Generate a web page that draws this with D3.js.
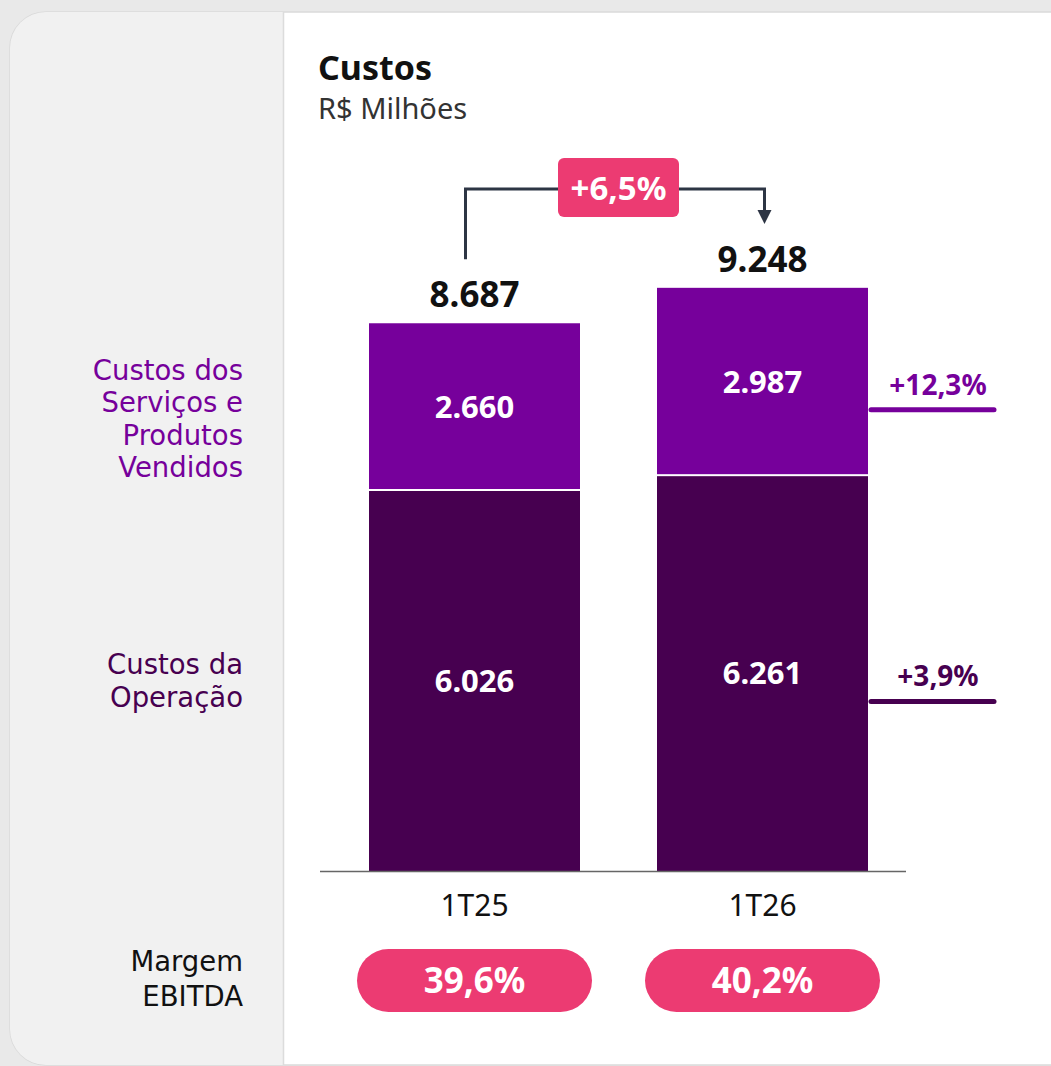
<!DOCTYPE html>
<html>
<head>
<meta charset="utf-8">
<script src="https://cdn.jsdelivr.net/npm/d3@7"></script>
<style>
  html, body { margin: 0; padding: 0; background: #e9e9e9; }
  svg { display: block; font-family: "Noto Sans", sans-serif; }
  .lado { font-family: "DejaVu Sans", sans-serif; }
</style>
</head>
<body>
<svg id="chart" width="1051" height="1066"></svg>
<script>
// dados
var periodos = ["1T25", "1T26"];
var custosOperacao = [6026, 6261];
var custosServicos = [2660, 2987];
var totais = [8687, 9248];
var margemEbitda = ["39,6%", "40,2%"];
var variacaoTotal = "+6,5%";
var variacaoSeries = ["+12,3%", "+3,9%"];
var nomesSeries = [["Custos dos", "Serviços e", "Produtos", "Vendidos"], ["Custos da", "Operação"]];

var corServicos = "#76009b";
var corOperacao = "#470050";
var corRosa = "#ec3b72";
var corSeta = "#2d3544";

var svg = d3.select("#chart");
var W = 1051, H = 1066;

// cartão
svg.append("rect").attr("x", 10).attr("y", 12).attr("width", 1080).attr("height", 1053)
  .attr("rx", 36).attr("fill", "#ffffff").attr("stroke", "#dadada").attr("stroke-width", 1.5);
var clip = svg.append("clipPath").attr("id", "cardclip");
clip.append("rect").attr("x", 10).attr("y", 12).attr("width", 1080).attr("height", 1053).attr("rx", 36);
svg.append("rect").attr("x", 10).attr("y", 12).attr("width", 273).attr("height", 1053)
  .attr("fill", "#f1f1f1").attr("clip-path", "url(#cardclip)");
svg.append("line").attr("x1", 283.5).attr("x2", 283.5).attr("y1", 12).attr("y2", 1065)
  .attr("stroke", "#dcdcdc").attr("stroke-width", 1.5);

// titulo
svg.append("text").attr("x", 318).attr("y", 80).text("Custos")
  .style("font-size", "34px").style("font-weight", "700").attr("fill", "#111");
svg.append("text").attr("x", 318).attr("y", 119).text("R$ Milhões")
  .style("font-size", "29px").attr("fill", "#333");

// escalas
var x = d3.scaleBand().domain(periodos).range([369, 868]).paddingInner(77 / 288).paddingOuter(0);
var y = d3.scaleLinear().domain([0, 10000]).range([871, 871 - 630.6]);

var dados = periodos.map(function(p, i) {
  return { periodo: p, op: custosOperacao[i], serv: custosServicos[i], total: totais[i] };
});

var g = svg.append("g");

// barras operacao
g.selectAll(".op").data(dados).enter().append("rect")
  .attr("x", function(d) { return x(d.periodo); })
  .attr("y", function(d) { return y(d.op); })
  .attr("width", x.bandwidth())
  .attr("height", function(d) { return y(0) - y(d.op); })
  .attr("fill", corOperacao);

// barras servicos
g.selectAll(".serv").data(dados).enter().append("rect")
  .attr("x", function(d) { return x(d.periodo); })
  .attr("y", function(d) { return y(d.op + d.serv); })
  .attr("width", x.bandwidth())
  .attr("height", function(d) { return y(d.op) - y(d.op + d.serv) - 2; })
  .attr("fill", corServicos);

var fmt = function(v) { return d3.format(",")(v).replace(",", "."); };

// rotulos dentro
g.selectAll(".lop").data(dados).enter().append("text")
  .attr("x", function(d) { return x(d.periodo) + x.bandwidth() / 2; })
  .attr("y", function(d) { return (y(0) + y(d.op)) / 2; })
  .attr("dy", "0.35em").attr("text-anchor", "middle")
  .style("font-size", "31px").style("font-weight", "700").attr("fill", "#fff")
  .text(function(d) { return fmt(d.op); });
g.selectAll(".lserv").data(dados).enter().append("text")
  .attr("x", function(d) { return x(d.periodo) + x.bandwidth() / 2; })
  .attr("y", function(d) { return (y(d.op) + y(d.op + d.serv)) / 2; })
  .attr("dy", "0.35em").attr("text-anchor", "middle")
  .style("font-size", "31px").style("font-weight", "700").attr("fill", "#fff")
  .text(function(d) { return fmt(d.serv); });

// totais
g.selectAll(".ltot").data(dados).enter().append("text")
  .attr("x", function(d) { return x(d.periodo) + x.bandwidth() / 2; })
  .attr("y", function(d) { return y(d.total) - 28; })
  .attr("dy", "0.35em").attr("text-anchor", "middle")
  .style("font-size", "35px").style("font-weight", "700").attr("fill", "#111")
  .text(function(d) { return fmt(d.total); });

// eixo x
svg.append("line").attr("x1", 320).attr("x2", 906).attr("y1", y(0) + 0.5).attr("y2", y(0) + 0.5)
  .attr("stroke", "#666").attr("stroke-width", 1.5);
g.selectAll(".cat").data(periodos).enter().append("text")
  .attr("x", function(d) { return x(d) + x.bandwidth() / 2; })
  .attr("y", 905).attr("dy", "0.35em").attr("text-anchor", "middle")
  .style("font-size", "30px").attr("fill", "#111")
  .text(function(d) { return d; });

// seta de variacao
var xa = x(periodos[0]) + x.bandwidth() / 2 - 9;
var xb = x(periodos[1]) + x.bandwidth() / 2 + 2;
var ytop = 189;
svg.append("path")
  .attr("d", "M" + xa + "," + (y(totais[0]) - 64) + "V" + ytop + "H" + xb + "V" + 212)
  .attr("fill", "none").attr("stroke", corSeta).attr("stroke-width", 3);
svg.append("path")
  .attr("d", "M" + (xb - 7) + ",210L" + (xb + 7) + ",210L" + xb + ",224Z")
  .attr("fill", corSeta);
svg.append("rect").attr("x", 558).attr("y", 158).attr("width", 121).attr("height", 59)
  .attr("rx", 6).attr("fill", corRosa);
svg.append("text").attr("x", 618.5).attr("y", 188).attr("dy", "0.35em").attr("text-anchor", "middle")
  .style("font-size", "33px").style("font-weight", "700").attr("fill", "#fff").text(variacaoTotal);

// variacao por serie
var meiosSerie = [
  { val: variacaoSeries[0], cor: corServicos, yl: y(custosOperacao[1] + custosServicos[1]) + 122 },
  { val: variacaoSeries[1], cor: corOperacao, yl: (y(0) + y(custosOperacao[1])) / 2 + 28 }
];
meiosSerie.forEach(function(s) {
  svg.append("line").attr("x1", 871).attr("x2", 994).attr("y1", s.yl).attr("y2", s.yl)
    .attr("stroke", s.cor).attr("stroke-width", 5).attr("stroke-linecap", "round");
  svg.append("text").attr("x", 938).attr("y", s.yl - 25).attr("dy", "0.35em").attr("text-anchor", "middle")
    .style("font-size", "28px").style("font-weight", "700").attr("fill", s.cor).text(s.val);
});

// nomes das series a esquerda
var centros = [(y(custosOperacao[0]) + y(totais[0])) / 2 + 12, (y(0) + y(custosOperacao[0])) / 2];
var coresNomes = [corServicos, corOperacao];
nomesSeries.forEach(function(linhas, i) {
  var t = svg.append("text").attr("class", "lado").attr("text-anchor", "end")
    .style("font-size", "27.5px").attr("fill", coresNomes[i]);
  var y0 = centros[i] - (linhas.length - 1) * 32.5 / 2;
  linhas.forEach(function(l, k) {
    t.append("tspan").attr("x", 243).attr("y", y0 + k * 32.5).attr("dy", "0.35em").text(l);
  });
});

// margem ebitda
var tm = svg.append("text").attr("class", "lado").attr("text-anchor", "end")
  .style("font-size", "27.5px").attr("fill", "#111");
tm.append("tspan").attr("x", 243).attr("y", 961).attr("dy", "0.35em").text("Margem");
tm.append("tspan").attr("x", 243).attr("y", 996).attr("dy", "0.35em").text("EBITDA");

var pillW = 235, pillH = 63;
g.selectAll(".pill").data(periodos).enter().append("rect")
  .attr("x", function(d) { return x(d) + x.bandwidth() / 2 - pillW / 2; })
  .attr("y", 949).attr("width", pillW).attr("height", pillH)
  .attr("rx", pillH / 2).attr("fill", corRosa);
g.selectAll(".pillt").data(periodos).enter().append("text")
  .attr("x", function(d) { return x(d) + x.bandwidth() / 2; })
  .attr("y", 981).attr("dy", "0.35em").attr("text-anchor", "middle")
  .style("font-size", "35px").style("font-weight", "700").attr("fill", "#fff")
  .text(function(d, i) { return margemEbitda[i]; });
</script>
</body>
</html>
